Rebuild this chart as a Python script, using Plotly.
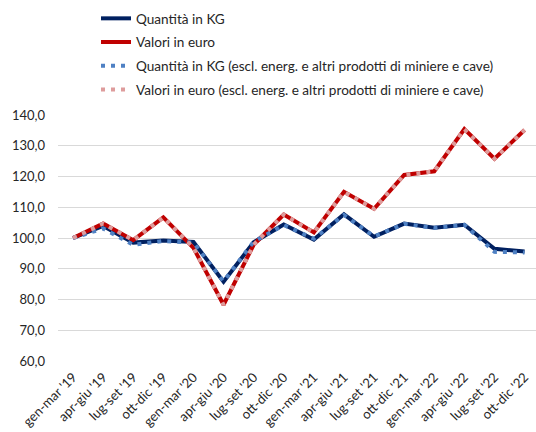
import plotly.graph_objects as go

categories = ["gen-mar '19", "apr-giu '19", "lug-set '19", "ott-dic '19",
              "gen-mar '20", "apr-giu '20", "lug-set '20", "ott-dic '20",
              "gen-mar '21", "apr-giu '21", "lug-set '21", "ott-dic '21",
              "gen-mar '22", "apr-giu '22", "lug-set '22", "ott-dic '22"]

quantita_kg = [100.0, 103.9, 98.5, 99.2, 98.7, 85.8, 98.6, 104.4,
               99.5, 107.7, 100.4, 104.7, 103.3, 104.3, 96.5, 95.6]
valori_euro = [100.0, 104.7, 99.3, 106.7, 96.8, 78.3, 97.8, 107.6,
               101.8, 115.0, 109.5, 120.5, 121.7, 135.4, 125.8, 135.1]
quantita_kg_escl = [100.0, 103.1, 97.8, 99.0, 98.5, 85.9, 98.8, 104.2,
                    99.8, 107.5, 100.5, 104.6, 103.3, 104.3, 95.5, 95.3]
valori_euro_escl = [100.0, 104.7, 99.3, 106.7, 96.8, 78.3, 97.8, 107.6,
                    101.8, 115.0, 109.5, 120.5, 121.7, 135.4, 125.8, 135.1]

series_names = ["Quantità in KG", "Valori in euro",
                "Quantità in KG (escl. energ. e altri prodotti di miniere e cave)",
                "Valori in euro (escl. energ. e altri prodotti di miniere e cave)"]

y_ticks = [60, 70, 80, 90, 100, 110, 120, 130, 140]

FONT = "Lato"

fig = go.Figure()
styles = [
    dict(color="#002060", width=4, dash="solid"),
    dict(color="#C00000", width=4, dash="solid"),
    dict(color="#4F81C4", width=4, dash="4px,6px"),
    dict(color="#DE9C9C", width=4, dash="4px,6px"),
]
for i, (name, vals) in enumerate(zip(series_names,
                                     [quantita_kg, valori_euro, quantita_kg_escl, valori_euro_escl])):
    fig.add_trace(go.Scatter(
        x=categories, y=vals, mode="lines", name=name,
        line=styles[i], legendgroup=f"g{i}",
    ))

fig.update_layout(
    width=536, height=432,
    margin=dict(l=58, r=0, t=115, b=71, autoexpand=False),
    paper_bgcolor="white", plot_bgcolor="white",
    separators=",.",
    font=dict(family=FONT, size=12, color="#262626"),
    showlegend=True,
    legend=dict(
        xref="container", yref="container",
        x=96 / 536, y=1 - 3 / 432, xanchor="left", yanchor="top",
        traceorder="grouped", tracegroupgap=3,
        font=dict(family=FONT, size=13.6, color="#262626"),
        bgcolor="rgba(0,0,0,0)",
    ),
    xaxis=dict(
        type="category", range=[-0.5, 15.38], automargin=False,
        showgrid=False, showline=False, zeroline=False,
        ticks="", tickangle=-45, ticklabelstandoff=5,
        tickfont=dict(family=FONT, size=13.2, color="#262626"),
    ),
    yaxis=dict(
        range=[60, 140], tickvals=y_ticks, tickformat=".1f", automargin=False,
        showgrid=True, gridcolor="#D9D9D9", gridwidth=1,
        zeroline=False, showline=False, ticks="",
        ticklabelstandoff=12,
        tickfont=dict(family=FONT, size=13, color="#262626"),
    ),
)

fig.write_html("out.html", config={"displayModeBar": False},
               post_script="document.body.style.margin='0px';")
